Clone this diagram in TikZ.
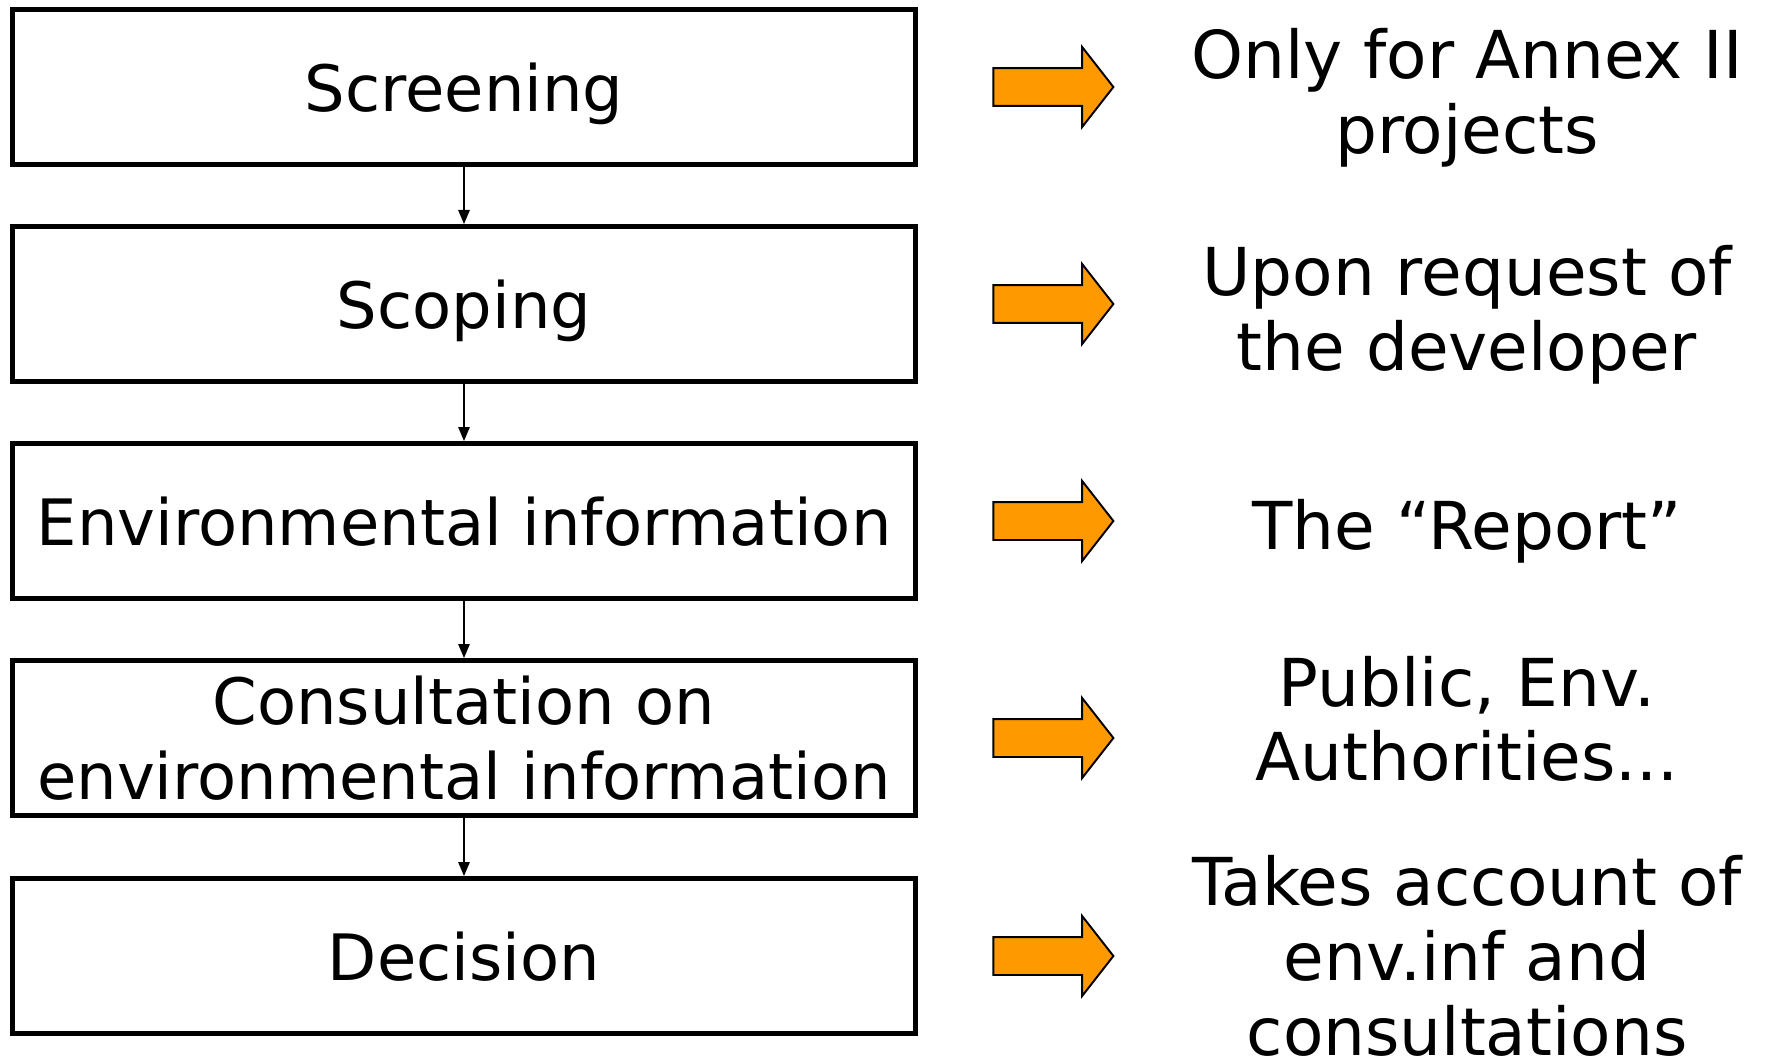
\documentclass[tikz,border=0pt]{standalone}
\usepackage{fontspec}
\setmainfont{DejaVu Sans}
\usetikzlibrary{arrows.meta,shapes.arrows}

\tikzset{
  stage/.style={draw=black,line width=2.8pt,minimum width=18.06cm,minimum height=3.1cm,
    inner sep=0pt,text depth=0pt,align=center,font=\fontsize{36.4}{42.5}\selectfont},
  note/.style={inner sep=0pt,align=center,font=\fontsize{37.6}{42.5}\selectfont},
  pointer/.style={single arrow,draw=black,line width=1.1pt,fill=orangefill,
    minimum height=2.4cm,minimum width=1.56cm,inner xsep=0pt,inner ysep=0.36cm,
    single arrow head extend=0.42cm,single arrow tip angle=104},
  link/.style={-{Triangle[length=8pt,width=6.5pt]},line width=0.85pt}
}
\definecolor{orangefill}{HTML}{FF9900}

\begin{document}
\begin{tikzpicture}[x=0.02cm,y=0.02cm]

      \useasboundingbox (0,0) rectangle (1767,-1064);

      \node[stage] (a) at (464,-87){Screening};
      \node[stage] (b) at (464,-304){Scoping};
      \node[stage] (c) at (464,-521){Environmental information};
      \node[stage] (d) at (464,-738){Consultation on\\environmental information};
      \node[stage] (e) at (464,-956){Decision};

      \node[pointer] (p) at (1046,-87){};
      \node[pointer] (q) at (1046,-304){};
      \node[pointer] (r) at (1046,-521){};
      \node[pointer] (s) at (1046,-738){};
      \node[pointer] (t) at (1046,-956){};

      \node[note] (f) at (1467,-98){Only for Annex II\\projects};
      \node[note] (g) at (1467,-315){Upon request of\\the developer};
      \node[note] (h) at (1467,-531){The “Report”};
      \node[note] (i) at (1467,-719){Public, Env.\\Authorities...};
      \node[note] (j) at (1467,-956){Takes account of\\env.inf and\\consultations};

      \draw[link] (a) -- (b);
      \draw[link] (b) -- (c);
      \draw[link] (c) -- (d);
      \draw[link] (d) -- (e);
    \end{tikzpicture}
\end{document}
